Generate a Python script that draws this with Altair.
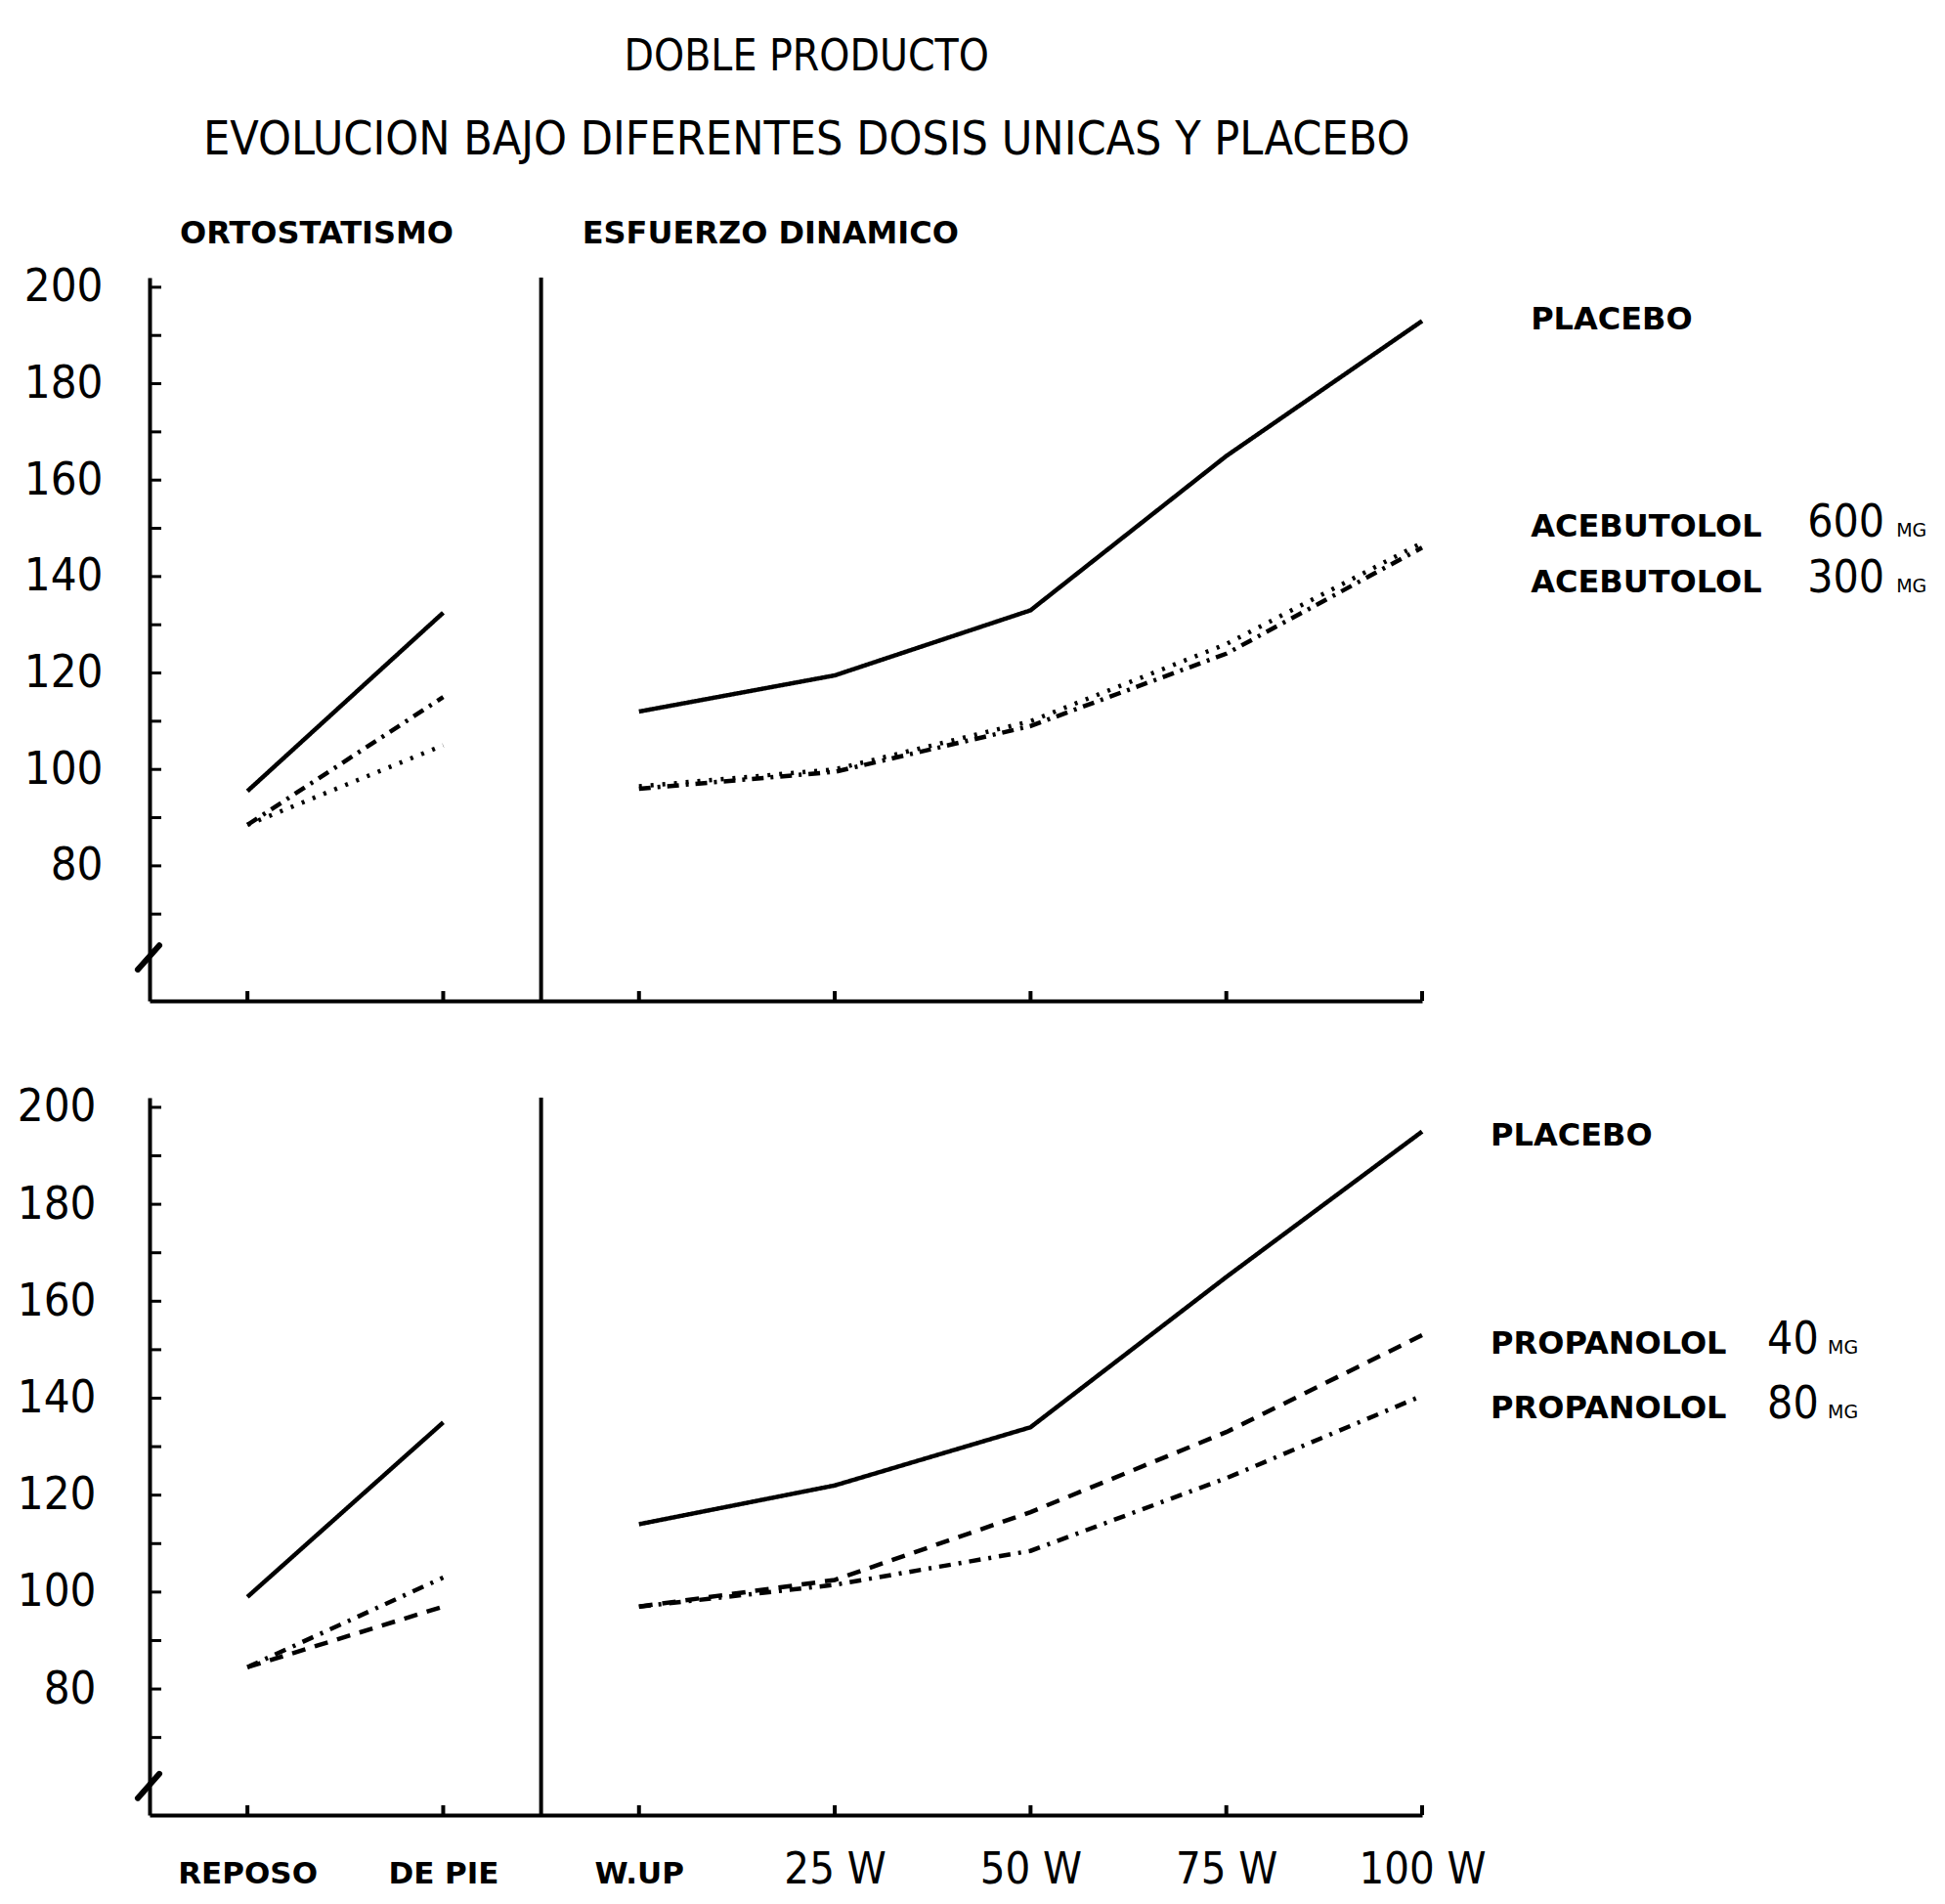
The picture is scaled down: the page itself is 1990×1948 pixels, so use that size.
import altair as alt
import pandas as pd

# ---------------- data ----------------
stages = ["REPOSO", "DE PIE", "W.UP", "25 W", "50 W", "75 W", "100 W"]
n_ortho = 2  # first two stages belong to ORTOSTATISMO

top_series = ["PLACEBO", "ACEBUTOLOL 600 MG", "ACEBUTOLOL 300 MG"]
top_placebo = [95.5, 132.5, 112.0, 119.5, 133.0, 165.0, 193.0]
top_ace600 = [88.5, 105.0, 96.5, 100.0, 110.0, 126.0, 147.0]
top_ace300 = [88.5, 115.0, 96.0, 99.5, 109.0, 124.0, 146.0]

bot_series = ["PLACEBO", "PROPANOLOL 40 MG", "PROPANOLOL 80 MG"]
bot_placebo = [99.0, 135.0, 114.0, 122.0, 134.0, 165.0, 195.0]
bot_pro40 = [84.5, 97.0, 97.0, 102.5, 116.5, 133.0, 153.0]
bot_pro80 = [84.5, 103.0, 97.0, 101.5, 108.5, 123.5, 140.5]

y_labels = [80, 100, 120, 140, 160, 180, 200]
y_minor = [70, 80, 90, 100, 110, 120, 130, 140, 150, 160, 170, 180, 190, 200]

section_names = ["ORTOSTATISMO", "ESFUERZO DINAMICO"]
title_lines = ["DOBLE PRODUCTO", "EVOLUCION BAJO DIFERENTES DOSIS UNICAS Y PLACEBO"]

top_legend_names = ["PLACEBO", "ACEBUTOLOL", "ACEBUTOLOL"]
top_legend_doses = ["", "600", "300"]
top_legend_units = ["", "MG", "MG"]
top_legend_y = [193.5, 150.5, 139.0]

bot_legend_names = ["PLACEBO", "PROPANOLOL", "PROPANOLOL"]
bot_legend_doses = ["", "40", "80"]
bot_legend_units = ["", "MG", "MG"]
bot_legend_y = [194.3, 151.3, 138.1]

# ---------------- style ----------------
NARROW = "'DejaVu Sans Condensed', 'Liberation Sans Narrow', sans-serif"
WIDE = "'DejaVu Sans', sans-serif"
X_DOMAIN = [-0.5, 6]
W = 1302


def line_df(names, vals_list):
    rows = []
    for name, vals in zip(names, vals_list):
        for i, (st, v) in enumerate(zip(stages, vals)):
            seg = "orto" if i < n_ortho else "esf"
            rows.append(dict(series=name, stage=st, pos=i, value=v, segment=f"{name}|{seg}"))
    return pd.DataFrame(rows)


def panel(names, vals_list, dashes, ydomain, height, label_pad, legend_x,
          legend_names, legend_doses, legend_units, legend_y, unit_dx,
          show_xlabels, break_y, extra_top=None):
    xs = alt.Scale(domain=X_DOMAIN, nice=False, zero=False)
    ys = alt.Scale(domain=ydomain, nice=False, zero=False)
    df = line_df(names, vals_list)

    if show_xlabels:
        expr = "[" + ",".join(f"'{s}'" for s in stages) + "][datum.value]"
        xaxis = alt.Axis(values=list(range(len(stages))), labelExpr=expr, title=None,
                         ticks=False, grid=False, domainWidth=4, domainColor="black",
                         labelColor="black", labelBaseline="alphabetic", labelPadding=69,
                         labelAlign="center",
                         labelFont={"condition": {"test": "datum.value < 2.5", "value": WIDE}, "value": NARROW},
                         labelFontSize={"condition": {"test": "datum.value < 2.5", "value": 31}, "value": 45},
                         labelFontWeight={"condition": {"test": "datum.value < 2.5", "value": "bold"}, "value": "normal"})
    else:
        xaxis = alt.Axis(values=list(range(len(stages))), labels=False, title=None, ticks=False,
                         grid=False, domainWidth=4, domainColor="black")
    yaxis = alt.Axis(values=y_labels, title=None, ticks=False, grid=False, domainWidth=4,
                     domainColor="black", labelColor="black", labelFont=NARROW, labelFontSize=47,
                     labelPadding=label_pad, labelBaseline="middle")

    def X(field):
        return alt.X(field, scale=xs, axis=xaxis)

    def Y(field):
        return alt.Y(field, scale=ys, axis=yaxis)

    lines = alt.Chart(df).mark_line(color="black", strokeWidth=4.5, strokeCap="butt").encode(
        x=X("pos:Q"),
        y=Y("value:Q"),
        detail="segment:N",
        strokeDash=alt.StrokeDash("series:N", scale=alt.Scale(domain=names, range=dashes), legend=None),
        order="pos:Q",
    )

    divider = alt.Chart(pd.DataFrame({"d": [(n_ortho - 1 + n_ortho) / 2]})).mark_rule(
        color="black", strokeWidth=4).encode(x=X("d:Q"))

    yt = alt.Chart(pd.DataFrame({"t": y_minor})).mark_rule(color="black", strokeWidth=3).encode(
        y=Y("t:Q"), x=alt.value(0), x2=alt.value(12)
    )
    xt = alt.Chart(pd.DataFrame({"p": list(range(len(stages)))})).mark_rule(color="black", strokeWidth=4).encode(
        x=X("p:Q"), y=alt.value(height), y2=alt.value(height - 10)
    )
    brk = alt.Chart(pd.DataFrame({"x1": [-0.56], "x2": [-0.45], "y1": [break_y], "y2": [break_y + 5]})).mark_rule(
        color="black", strokeWidth=6, strokeCap="round").encode(
        x=X("x1:Q"), x2="x2:Q", y=Y("y1:Q"), y2="y2:Q")

    ldf = pd.DataFrame({"name": legend_names, "dose": legend_doses, "unit": legend_units,
                        "y": legend_y, "x": [legend_x] * len(legend_names)})
    base = alt.Chart(ldf).encode(x=X("x:Q"), y=Y("y:Q"))
    lname = base.mark_text(align="left", baseline="alphabetic", dy=11, font=WIDE, fontWeight="bold",
                           fontSize=32, color="black").encode(text="name:N")
    ldose = base.mark_text(align="left", baseline="alphabetic", dy=11, dx=283, font=NARROW,
                           fontSize=46, color="black").encode(text="dose:N")
    lunit = base.mark_text(align="left", baseline="alphabetic", dy=11, dx=unit_dx, font=WIDE,
                           fontSize=19, color="black").encode(text="unit:N")

    layers = [lines, divider, yt, xt, brk, lname, ldose, lunit]
    if extra_top is not None:
        layers += extra_top(X, Y)
    return alt.layer(*layers).properties(width=W, height=height)


def top_extras(X, Y):
    hdf = pd.DataFrame({"t": section_names, "x": [-0.345, 1.71], "y": [211.2, 211.2]})
    heads = alt.Chart(hdf).mark_text(align="left", baseline="middle", font=WIDE, fontWeight="bold",
                                     fontSize=32, color="black").encode(
        x=X("x:Q"), y=Y("y:Q"), text="t:N")
    tdf = pd.DataFrame({"t": title_lines, "x": [2.856, 2.856], "y": [247.7, 230.4], "s": [44, 48]})
    titles = alt.Chart(tdf).mark_text(align="center", baseline="middle", font=NARROW,
                                      color="black").encode(
        x=X("x:Q"), y=Y("y:Q"), text="t:N",
        size=alt.Size("s:Q", scale=None, legend=None))
    return [heads, titles]


top = panel(top_series, [top_placebo, top_ace600, top_ace300],
            [[1, 0], [3, 9], [12, 7, 3, 7]], [52, 202], 740, 48, 6.555,
            top_legend_names, top_legend_doses, top_legend_units, top_legend_y, 374,
            False, 58.5, extra_top=top_extras)

bottom = panel(bot_series, [bot_placebo, bot_pro40, bot_pro80],
               [[1, 0], [14, 10], [12, 8, 3, 8]], [54, 202], 734, 55, 6.35,
               bot_legend_names, bot_legend_doses, bot_legend_units, bot_legend_y, 345,
               True, 57.5)

chart = alt.vconcat(top, bottom, spacing=82).resolve_scale(
    x="independent", y="independent", strokeDash="independent", size="independent"
).properties(
    padding={"top": 28, "left": 9, "right": 5, "bottom": 16},
    background="white",
).configure_view(stroke=None)

chart.save("out.html", embed_options={"renderer": "svg", "actions": False})
